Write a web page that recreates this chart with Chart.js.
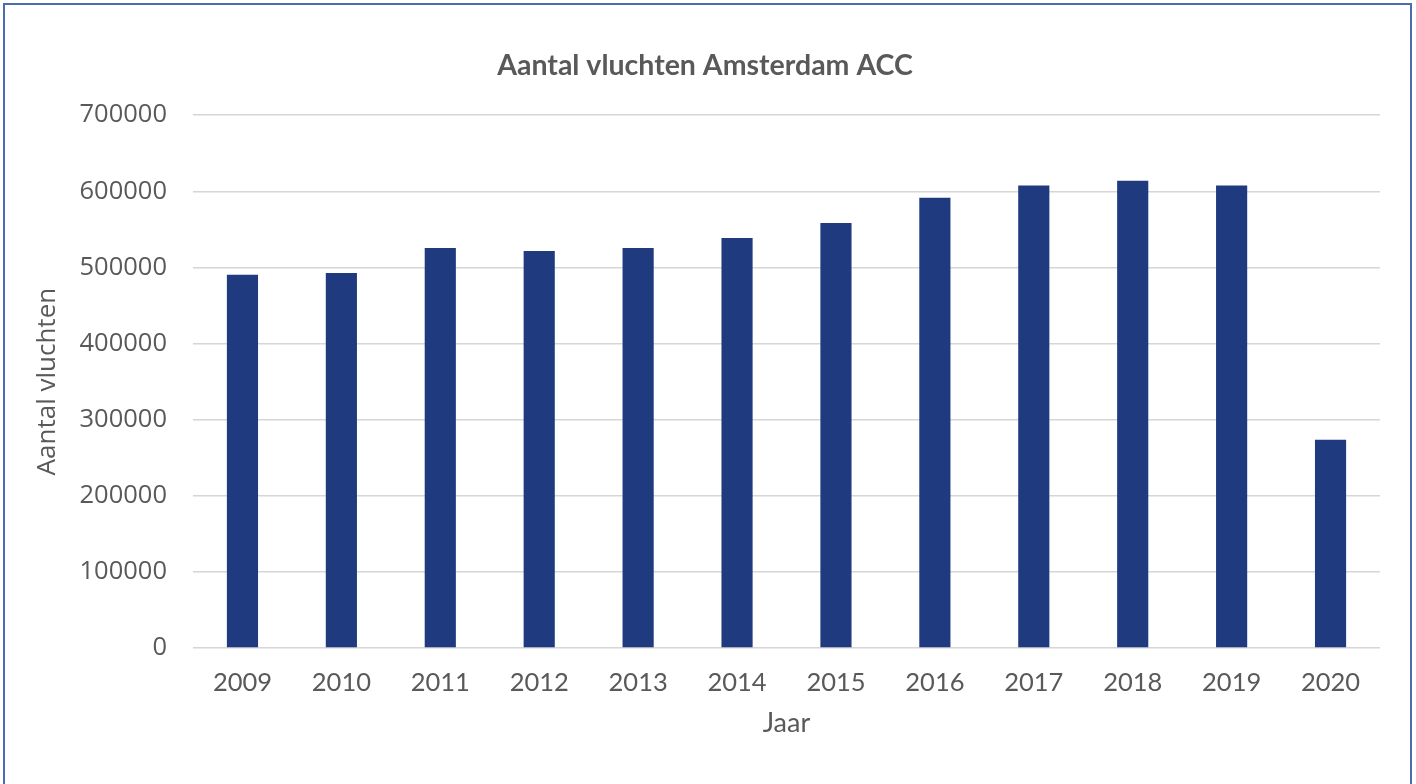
<!DOCTYPE html>
<html>
<head>
<meta charset="utf-8">
<title>Aantal vluchten Amsterdam ACC</title>
<script src="https://cdn.jsdelivr.net/npm/chart.js@4"></script>
<style>
  html, body { margin: 0; padding: 0; background: #fff; }
  #wrap { width: 1416px; height: 784px; position: relative; }
</style>
</head>
<body>
<div id="wrap"><canvas id="flightsChart" width="1416" height="784"></canvas></div>
<script>
'use strict';

// jaren en aantal vluchten per jaar
const years = ['2009', '2010', '2011', '2012', '2013', '2014', '2015', '2016', '2017', '2018', '2019', '2020'];
const flights = [490500, 492700, 525600, 521700, 525600, 538800, 558500, 591700, 607500, 614000, 607500, 273700];
const yTicks = [0, 100000, 200000, 300000, 400000, 500000, 600000, 700000];

const grey = '#595959';
const barBlue = '#1f3a7f';

// white background plus the thin blue frame round the page
const framePlugin = {
  id: 'frame',
  beforeDraw(chart) {
    const ctx = chart.ctx;
    ctx.save();
    ctx.fillStyle = '#ffffff';
    ctx.fillRect(0, 0, chart.width, chart.height);
    ctx.strokeStyle = '#4c6cb0';
    ctx.lineWidth = 2;
    ctx.strokeRect(4, 4, 1407, 800);
    ctx.restore();
  }
};

const ctx = document.getElementById('flightsChart').getContext('2d');
const chart = new Chart(ctx, {
  type: 'bar',
  data: {
    labels: years,
    datasets: [{
      label: 'Aantal vluchten',
      data: flights,
      backgroundColor: barBlue,
      borderWidth: 0,
      barPercentage: 0.315,
      categoryPercentage: 1
    }]
  },
  plugins: [framePlugin],
  options: {
    responsive: false,
    animation: false,
    // left/right padding also keeps the title centred on the whole frame
    layout: { padding: { left: 30, right: 36, top: 0, bottom: 0 } },
    plugins: {
      legend: { display: false },
      tooltip: { enabled: false },
      title: {
        display: true,
        text: 'Aantal vluchten Amsterdam ACC',
        color: grey,
        font: { family: 'Lato', size: 28.5, weight: 'bold', lineHeight: 1.2 },
        padding: { top: 49, bottom: 32 }
      }
    },
    scales: {
      x: {
        grid: { display: false, drawTicks: false },
        border: { display: false },
        ticks: {
          color: grey,
          padding: 19,
          maxRotation: 0,
          font: { family: 'Lato', size: 25.5 }
        },
        title: {
          display: true,
          text: 'Jaar',
          color: grey,
          font: { family: 'Lato', size: 27 },
          padding: { top: 0, bottom: 45 }
        },
        afterFit(scale) { scale.height = 136; }
      },
      y: {
        min: 0,
        max: 700000,
        afterBuildTicks(scale) { scale.ticks = yTicks.map(v => ({ value: v })); },
        grid: { color: '#d6d6d6', lineWidth: 1.5, drawTicks: false },
        border: { display: false },
        ticks: {
          color: grey,
          padding: 26,
          font: { family: 'Open Sans', size: 25.5 },
          callback: v => String(v)
        },
        title: {
          display: true,
          text: 'Aantal vluchten',
          color: grey,
          font: { family: 'Open Sans', size: 26 },
          padding: { top: 2, bottom: 0 }
        },
        afterFit(scale) { scale.width = 163; }
      }
    }
  }
});
</script>
</body>
</html>
